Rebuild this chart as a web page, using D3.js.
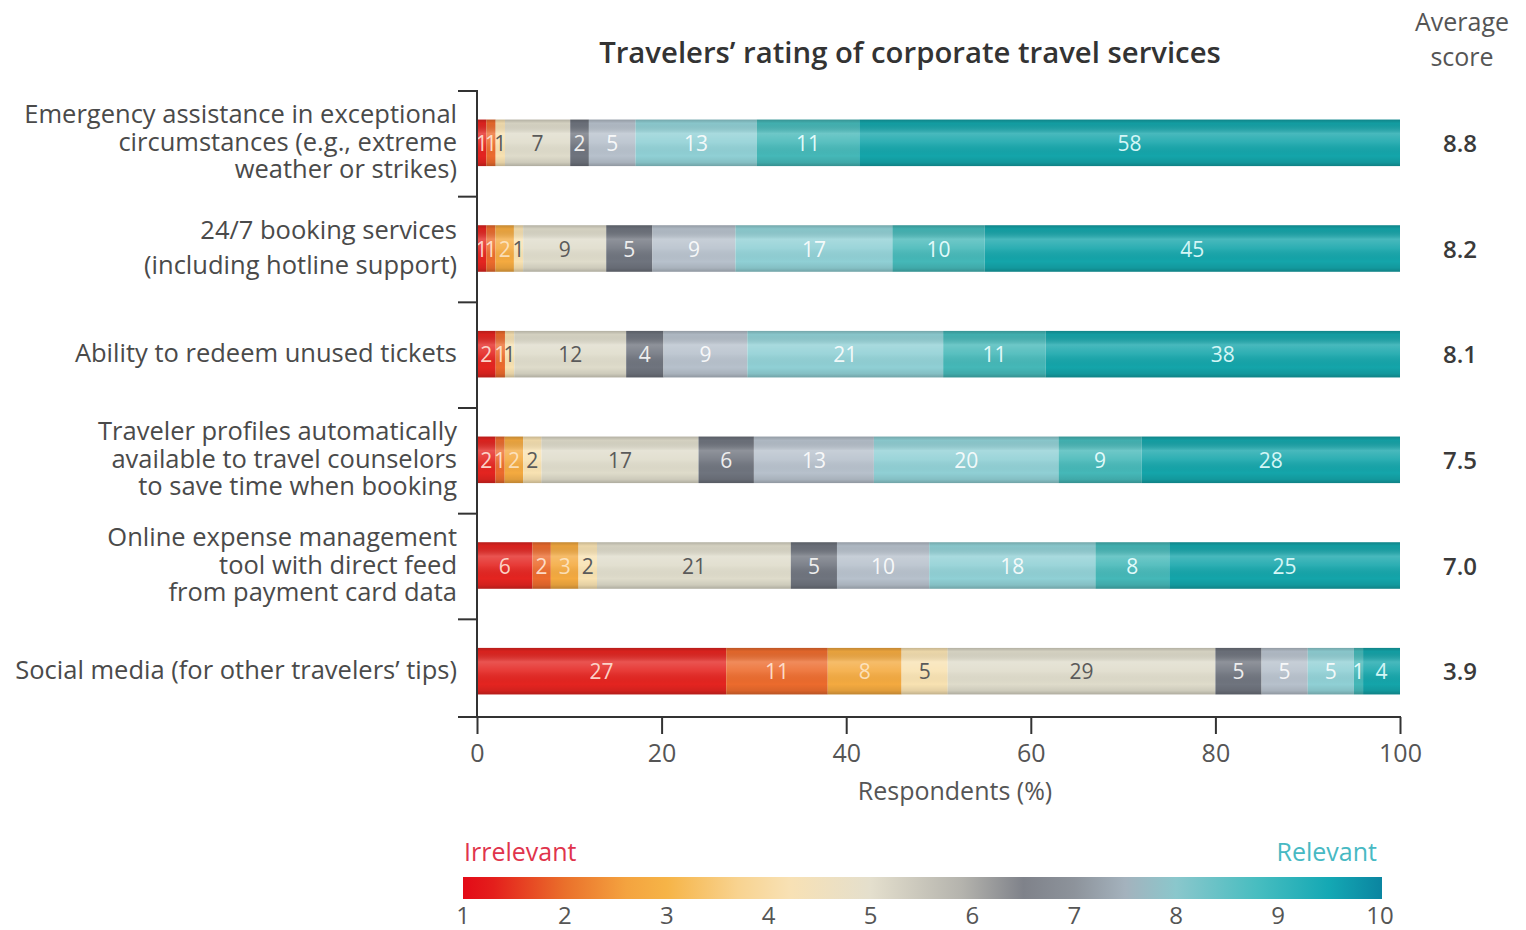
<!DOCTYPE html>
<html>
<head>
<meta charset="utf-8">
<script src="https://cdn.jsdelivr.net/npm/d3@7"></script>
<style>
  html, body { margin: 0; padding: 0; background: #ffffff; }
  svg { display: block; font-family: "Open Sans", "Noto Sans", sans-serif; }
</style>
</head>
<body>
<svg id="chart" width="1526" height="930"></svg>
<script>
// Services rated by travelers (one entry per bar, split into display lines)
const categories = [
  ["Emergency assistance in exceptional", "circumstances (e.g., extreme", "weather or strikes)"],
  ["24/7 booking services", "(including hotline support)"],
  ["Ability to redeem unused tickets"],
  ["Traveler profiles automatically", "available to travel counselors", "to save time when booking"],
  ["Online expense management", "tool with direct feed", "from payment card data"],
  ["Social media (for other travelers’ tips)"]
];

// Rating scale, 1 = irrelevant ... 10 = relevant
const ratingLevels = [1, 2, 3, 4, 5, 6, 7, 8, 9, 10];

// Share of respondents (%) giving each rating, per service
const emergencyShares   = [1, 1, 0, 1, 7, 2, 5, 13, 11, 58];
const bookingShares     = [1, 1, 2, 1, 9, 5, 9, 17, 10, 45];
const redeemShares      = [2, 1, 0, 1, 12, 4, 9, 21, 11, 38];
const profileShares     = [2, 1, 2, 2, 17, 6, 13, 20, 9, 28];
const expenseShares     = [6, 2, 3, 2, 21, 5, 10, 18, 8, 25];
const socialMediaShares = [27, 11, 8, 5, 29, 5, 5, 5, 1, 4];

// Average score per service
const averageScores = [8.8, 8.2, 8.1, 7.5, 7.0, 3.9];

// Axis ticks
const xTickValues = [0, 20, 40, 60, 80, 100];

const seriesByCategory = [emergencyShares, bookingShares, redeemShares,
                          profileShares, expenseShares, socialMediaShares];

// ---- styling ----
const segmentFill = ["#e42420", "#ec6b2d", "#f4aa40", "#f8e2b2", "#dfdccb",
                     "#6f747e", "#b7c1cc", "#90d0d5", "#45b8b8", "#14a5aa"];
const segmentText = ["rgba(255,225,215,0.92)", "rgba(255,230,215,0.92)", "rgba(255,240,220,0.75)",
                     "#5a5a5a", "#5a5a5a", "#eeeeee", "rgba(255,255,255,0.9)",
                     "rgba(255,255,255,0.9)", "rgba(235,255,255,0.95)", "#d4f6f6"];
const legendStops = [
  [1.0, "#e30a17"], [1.3, "#e41f1c"], [2.0, "#ea702b"], [2.6, "#f4a33f"],
  [3.0, "#f6b447"], [3.7, "#f8d390"], [4.2, "#f8e1b4"], [5.0, "#e4dfcd"],
  [5.9, "#b4b3ad"], [6.5, "#7f828a"], [7.0, "#8d939b"], [7.5, "#a4b2bd"],
  [8.0, "#8ac7cc"], [8.8, "#47bdc0"], [9.5, "#14a8b4"], [10.0, "#0b86a1"]
];

const svg = d3.select("#chart");
const defs = svg.append("defs");

// ---- scales ----
const x = d3.scaleLinear().domain([0, 100]).range([477, 1400]);
const y = d3.scaleBand().domain(d3.range(categories.length)).range([90, 724]).paddingInner(0);
const barH = y.bandwidth() * 0.44;

// stacked layout, each bar normalised to the full width
const rows = seriesByCategory.map(s => Object.fromEntries(s.map((v, i) => [i, v])));
const stack = d3.stack().keys(d3.range(ratingLevels.length)).offset(d3.stackOffsetExpand);
const layers = stack(rows);

// glossy shading laid over each bar
const shade = defs.append("linearGradient").attr("id", "barShade")
  .attr("x1", 0).attr("y1", 0).attr("x2", 0).attr("y2", 1);
[[0, "#000", 0.2], [0.08, "#000", 0.05], [0.3, "#fff", 0.22], [0.5, "#fff", 0.1],
 [0.78, "#000", 0.0], [0.92, "#000", 0.08], [1, "#000", 0.22]].forEach(([o, c, a]) =>
  shade.append("stop").attr("offset", o).attr("stop-color", c).attr("stop-opacity", a));

// ---- title ----
svg.append("text")
  .attr("x", 910).attr("y", 63)
  .attr("text-anchor", "middle")
  .attr("font-size", 29.3).attr("font-weight", 600).attr("fill", "#333")
  .text("Travelers’ rating of corporate travel services");

svg.append("text").attr("x", 1462).attr("y", 31).attr("text-anchor", "middle")
  .attr("font-size", 25).attr("fill", "#555").text("Average");
svg.append("text").attr("x", 1462).attr("y", 66).attr("text-anchor", "middle")
  .attr("font-size", 25).attr("fill", "#555").text("score");

// ---- bars ----
const barCenter = i => y(i) + y.bandwidth() / 2;

const layerG = svg.append("g").selectAll("g").data(layers).join("g")
  .attr("fill", d => segmentFill[d.key]);

layerG.selectAll("rect").data(d => d).join("rect")
  .attr("x", d => x(d[0] * 100))
  .attr("width", d => x(d[1] * 100) - x(d[0] * 100))
  .attr("y", (d, i) => barCenter(i) - barH / 2)
  .attr("height", barH);

svg.append("g").selectAll("rect").data(categories).join("rect")
  .attr("x", x(0)).attr("width", x(100) - x(0))
  .attr("y", (d, i) => barCenter(i) - barH / 2)
  .attr("height", barH)
  .attr("fill", "url(#barShade)");

// segment value labels
layers.forEach(layer => {
  const k = layer.key;
  svg.append("g").selectAll("text")
    .data(layer.map((d, i) => ({ d, i, v: seriesByCategory[i][k] })).filter(e => e.v > 0))
    .join("text")
    .attr("x", e => x((e.d[0] + e.d[1]) / 2 * 100))
    .attr("y", e => barCenter(e.i) + 8)
    .attr("text-anchor", "middle")
    .attr("font-size", 21)
    .attr("fill", segmentText[k])
    .text(e => e.v);
});

// ---- category labels ----
categories.forEach((lines, i) => {
  const gap = lines.length === 2 ? 35 : 27.5;
  const t = svg.append("text")
    .attr("text-anchor", "end").attr("font-size", 25.5).attr("fill", "#4a4a4a");
  lines.forEach((ln, j) => {
    t.append("tspan")
      .attr("x", 457)
      .attr("y", barCenter(i) + (j - (lines.length - 1) / 2) * gap + 8)
      .text(ln);
  });
});

// ---- average scores ----
svg.append("g").selectAll("text").data(averageScores).join("text")
  .attr("x", 1460).attr("y", (d, i) => barCenter(i) + 9)
  .attr("text-anchor", "middle")
  .attr("font-size", 24).attr("font-weight", 600).attr("fill", "#3a3a3a")
  .text(d => d3.format(".1f")(d));

// ---- axes ----
const axisColor = "#333";
const axisY = 717;

// vertical axis with ticks on band boundaries
svg.append("line").attr("x1", x(0)).attr("x2", x(0))
  .attr("y1", y(0)).attr("y2", axisY)
  .attr("stroke", axisColor).attr("stroke-width", 2);
svg.append("g").selectAll("line").data(y.domain()).join("line")
  .attr("x1", x(0) - 19).attr("x2", x(0))
  .attr("y1", d => y(d) + 1).attr("y2", d => y(d) + 1)
  .attr("stroke", axisColor).attr("stroke-width", 2);

// horizontal axis
svg.append("line").attr("x1", x(0) - 19).attr("x2", x(100) + 1)
  .attr("y1", axisY).attr("y2", axisY)
  .attr("stroke", axisColor).attr("stroke-width", 2);

const xAxis = svg.append("g").attr("transform", `translate(0,${axisY})`)
  .call(d3.axisBottom(x).tickValues(xTickValues).tickSize(17).tickPadding(10).tickSizeOuter(0));
xAxis.select(".domain").remove();
xAxis.selectAll(".tick line").attr("stroke", axisColor).attr("stroke-width", 2);
xAxis.selectAll(".tick text").attr("font-size", 25).attr("fill", "#555")
  .attr("font-family", "\"Open Sans\", sans-serif");

svg.append("text").attr("x", 955).attr("y", 800).attr("text-anchor", "middle")
  .attr("font-size", 25).attr("fill", "#555").text("Respondents (%)");

// ---- colour legend ----
const lx = d3.scaleLinear().domain([1, 10]).range([463, 1380]);
const lg = defs.append("linearGradient").attr("id", "legendGrad")
  .attr("gradientUnits", "userSpaceOnUse")
  .attr("x1", lx(1)).attr("x2", lx(10)).attr("y1", 0).attr("y2", 0);
legendStops.forEach(([v, c]) =>
  lg.append("stop").attr("offset", (lx(v) - lx(1)) / (lx(10) - lx(1))).attr("stop-color", c));

svg.append("rect").attr("x", lx(1)).attr("width", lx(10) - lx(1) + 2)
  .attr("y", 877).attr("height", 22).attr("fill", "url(#legendGrad)");

svg.append("g").selectAll("text").data(ratingLevels).join("text")
  .attr("x", d => lx(d)).attr("y", 924)
  .attr("text-anchor", "middle").attr("font-size", 24).attr("fill", "#555")
  .text(d => d);

svg.append("text").attr("x", 464).attr("y", 861).attr("font-size", 25)
  .attr("fill", "#e0344c").text("Irrelevant");
svg.append("text").attr("x", 1377).attr("y", 861).attr("text-anchor", "end")
  .attr("font-size", 25).attr("fill", "#47b9c3").text("Relevant");
</script>
</body>
</html>
